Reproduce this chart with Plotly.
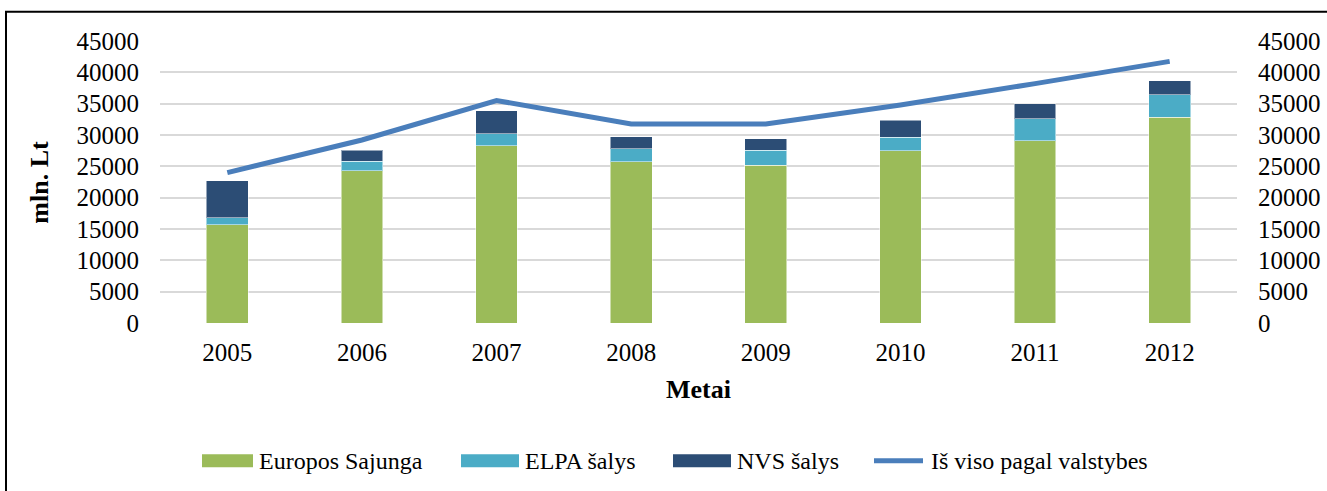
import plotly.graph_objects as go

years = ["2005", "2006", "2007", "2008", "2009", "2010", "2011", "2012"]
europos_sajunga = [15700, 24300, 28300, 25700, 25200, 27450, 29100, 32870]
elpa_salys = [1100, 1480, 1920, 2140, 2390, 2230, 3510, 3560]
nvs_salys = [5900, 1760, 3620, 1870, 1800, 2650, 2350, 2230]
is_viso = [24000, 29200, 35500, 31750, 31750, 34800, 38200, 41750]
y_ticks = [0, 5000, 10000, 15000, 20000, 25000, 30000, 35000, 40000, 45000]

series_names = ["Europos Sajunga", "ELPA šalys", "NVS šalys", "Iš viso pagal valstybes"]
series_colors = ["#9BBB59", "#4BACC6", "#2C4D75", "#4A7EBB"]

W, H = 1327, 491
L, R, T, B = 160, 1237, 41.3, 323.3
FONT = "Liberation Serif, Times New Roman, serif"
FS_TICK = 25
FS_LEG = 24
FS_TITLE = 26

def px_x(p):
    return (p - L) / (R - L)

def px_y(p):
    return (B - p) / (B - T)

fig = go.Figure()
bar_line = dict(width=1, color="rgba(255,255,255,0.5)")
for vals, name, col in zip([europos_sajunga, elpa_salys, nvs_salys], series_names[:3], series_colors[:3]):
    fig.add_trace(go.Bar(x=years, y=vals, name=name,
                         marker=dict(color=col, line=bar_line)))
fig.add_trace(go.Scatter(x=years, y=is_viso, name=series_names[3],
                         mode="lines", yaxis="y2",
                         line=dict(color=series_colors[3], width=5)))

axis_common = dict(range=[0, 45000], tickvals=y_ticks,
                   ticktext=[str(v) for v in y_ticks],
                   tickfont=dict(family=FONT, size=FS_TICK, color="#000"),
                   showline=False, zeroline=False, automargin=False, ticks="")

# manual legend (large swatches like the original)
legend_y = 461
swatches = [(202, 253), (461, 519), (673, 731), (872, 925)]
shapes = [
    dict(type="path", xref="paper", yref="paper",
         path=f"M {px_x(6)} {px_y(500)} L {px_x(6)} {px_y(12)} L {px_x(1340)} {px_y(12)}",
         line=dict(color="#000", width=2)),
]
annotations = [
    dict(text="<b>Metai</b>", xref="paper", yref="paper",
         x=0.5, y=px_y(390), xanchor="center", yanchor="middle",
         showarrow=False, font=dict(family=FONT, size=FS_TITLE, color="#000")),
    dict(text="<b>mln. Lt</b>", xref="paper", yref="paper",
         x=px_x(40), y=px_y(183), xanchor="center", yanchor="middle",
         textangle=-90, showarrow=False,
         font=dict(family=FONT, size=FS_TITLE, color="#000")),
]
for i, ((x0, x1), name, col) in enumerate(zip(swatches, series_names, series_colors)):
    if i < 3:
        shapes.append(dict(type="rect", xref="paper", yref="paper",
                           x0=px_x(x0), x1=px_x(x1),
                           y0=px_y(legend_y + 6.5), y1=px_y(legend_y - 6.5),
                           fillcolor=col, line=dict(width=0)))
    else:
        shapes.append(dict(type="line", xref="paper", yref="paper",
                           x0=px_x(x0 + 2), x1=px_x(x1 - 2),
                           y0=px_y(legend_y), y1=px_y(legend_y),
                           line=dict(color=col, width=5)))
    annotations.append(dict(text=name, xref="paper", yref="paper",
                            x=px_x(x1 + 4), y=px_y(legend_y),
                            xanchor="left", yanchor="middle", showarrow=False,
                            font=dict(family=FONT, size=FS_LEG, color="#000")))

fig.update_layout(
    width=W, height=H,
    margin=dict(l=L, r=W - R, t=T, b=H - B, autoexpand=False),
    paper_bgcolor="white", plot_bgcolor="white",
    barmode="stack", bargap=0.69,
    font=dict(family=FONT, size=FS_TICK, color="#000"),
    xaxis=dict(showgrid=False, showline=False, ticks="", automargin=False,
               tickfont=dict(family=FONT, size=FS_TICK, color="#000"),
               ticklabelstandoff=12),
    yaxis=dict(**axis_common, showgrid=True, gridcolor="#D9D9D9", gridwidth=2,
               ticklabelstandoff=20),
    yaxis2=dict(**axis_common, overlaying="y", side="right", showgrid=False,
                ticklabelstandoff=20),
    showlegend=False,
    annotations=annotations,
    shapes=shapes,
)

fig.write_html("out.html",
               config={"displayModeBar": False},
               post_script="document.body.style.margin='0';document.body.style.overflow='hidden';")
